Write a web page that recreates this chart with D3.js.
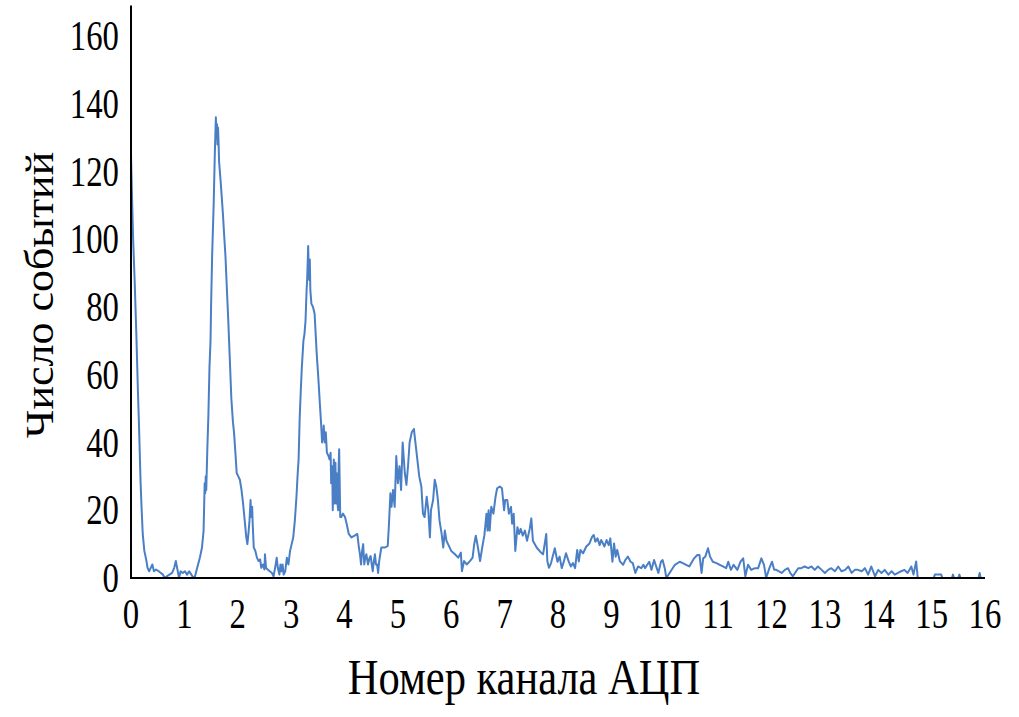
<!DOCTYPE html>
<html><head><meta charset="utf-8">
<script src="https://cdn.jsdelivr.net/npm/d3@7"></script>
<style>body{margin:0;background:#fff}svg{display:block}text{font-family:"Liberation Serif","Times New Roman",serif;fill:#000}</style>
</head><body><svg id="c" width="1019" height="717"></svg>
<script>
const channel = [0.00,0.02,0.04,0.07,0.10,0.13,0.15,0.18,0.20,0.22,0.25,0.29,0.31,0.34,0.37,0.40,0.43,0.47,0.52,0.56,0.60,0.63,0.67,0.72,0.77,0.81,0.84,0.87,0.90,0.93,0.97,1.01,1.05,1.09,1.13,1.17,1.20,1.24,1.29,1.33,1.36,1.38,1.39,1.40,1.41,1.43,1.45,1.47,1.49,1.50,1.52,1.55,1.57,1.59,1.60,1.61,1.62,1.63,1.64,1.65,1.68,1.72,1.75,1.77,1.80,1.82,1.85,1.88,1.91,1.93,1.96,1.98,2.01,2.04,2.07,2.10,2.13,2.16,2.18,2.20,2.22,2.24,2.25,2.27,2.28,2.30,2.33,2.36,2.39,2.42,2.44,2.47,2.50,2.51,2.53,2.56,2.60,2.64,2.67,2.70,2.73,2.75,2.78,2.80,2.82,2.84,2.86,2.89,2.92,2.95,2.98,3.01,3.04,3.07,3.10,3.12,3.14,3.16,3.18,3.20,3.23,3.25,3.27,3.29,3.30,3.31,3.32,3.33,3.34,3.35,3.36,3.38,3.41,3.44,3.46,3.48,3.51,3.54,3.56,3.58,3.60,3.61,3.63,3.65,3.67,3.70,3.72,3.74,3.75,3.77,3.78,3.80,3.81,3.83,3.84,3.85,3.86,3.88,3.89,3.90,3.92,3.94,3.97,4.01,4.04,4.08,4.13,4.19,4.24,4.27,4.29,4.31,4.33,4.35,4.37,4.39,4.41,4.44,4.47,4.49,4.51,4.53,4.55,4.57,4.59,4.61,4.63,4.65,4.69,4.76,4.81,4.83,4.86,4.88,4.91,4.94,4.97,5.00,5.03,5.06,5.09,5.13,5.16,5.19,5.22,5.26,5.30,5.35,5.40,5.44,5.47,5.50,5.54,5.57,5.60,5.62,5.66,5.69,5.72,5.75,5.78,5.82,5.85,5.88,5.91,5.94,6.00,6.07,6.13,6.18,6.20,6.24,6.29,6.35,6.40,6.43,6.46,6.50,6.54,6.58,6.62,6.66,6.68,6.70,6.72,6.75,6.79,6.83,6.86,6.91,6.95,6.99,7.01,7.05,7.08,7.12,7.14,7.17,7.20,7.24,7.27,7.30,7.34,7.38,7.42,7.47,7.50,7.53,7.60,7.67,7.72,7.78,7.80,7.83,7.87,7.94,7.99,8.03,8.07,8.11,8.15,8.20,8.24,8.28,8.32,8.36,8.39,8.42,8.47,8.53,8.59,8.64,8.67,8.70,8.74,8.78,8.81,8.87,8.91,8.95,8.98,9.02,9.05,9.08,9.11,9.16,9.22,9.26,9.31,9.36,9.40,9.45,9.50,9.56,9.60,9.63,9.71,9.75,9.80,9.84,9.88,9.93,9.96,10.00,10.03,10.19,10.28,10.34,10.40,10.46,10.55,10.61,10.65,10.69,10.72,10.76,10.81,10.85,10.90,10.97,11.03,11.09,11.15,11.19,11.24,11.29,11.36,11.42,11.47,11.51,11.56,11.62,11.69,11.75,11.81,11.86,11.90,11.96,12.01,12.05,12.09,12.19,12.25,12.31,12.35,12.40,12.50,12.56,12.62,12.69,12.75,12.81,12.87,12.94,13.00,13.06,13.12,13.19,13.25,13.31,13.38,13.44,13.50,13.56,13.62,13.69,13.75,13.81,13.87,13.94,14.00,14.06,14.12,14.19,14.25,14.31,14.37,14.43,14.49,14.55,14.62,14.66,14.71,14.74,15.04,15.06,15.18,15.20,15.38,15.40,15.42,15.50,15.52,15.54,15.88,15.90,15.92,16.00];
const counts = [125,112,100,87,72,55,45,28,20,13,8,5,3,2,3,4,2,2.5,2,1.5,1,0,0.5,1,1.5,3,5,2.5,0,2,1.5,2,1,2,1,0,0.5,3,6,9,14,28,25,30,26,38,48,62,70,80,95,111,125,136,130,134,128,133,129,123,117,108,100,95,84,77,65,53,46,43,36,31,30,29,26,22,17,12,10,13,17,23,18,21,16,9,8,6,5,5.5,3,4,2.5,7,3,2.5,2,1.5,0.5,3,6,3,1,4,2,4,1,2,6,4,8,10,12,17,24,30,35,47,55,62,70,72,76,85,88,93,98,90,88,94,85,81,80,78,72,66,59,51,46,40,42,45,40,43,37,36,35,37,28,33,20,35,22,34,22,31,24,20,33,38,18,18,19,18,16,13,12,12.5,13,9,7,4,8,10,4,6,7,4,6,6.5,4,2,5,7,4,4,1.5,5,9,9,9.5,15,25,21,26,21,36,28,33,26,40,31,27.5,33,40,43,44,37,30,27,19,18,24,20,12,20,23,29,27,23,17,13,9,14,11,10,8,7,6,7.5,2,5,4,5,6,10,12.5,9,5,9,12.5,19,14,20,14,21,19,24,26.5,27,26.5,20,23,23,19,21,16,19,8,15,13,14.5,12.5,14,11,14.5,17.6,11,9,7.7,7,13,5,3,4.4,8.8,4.8,6.3,2.9,4.9,7.3,4.9,3.4,4.4,2.9,8.3,4.9,8.3,7.3,9.3,10.2,12.2,12.7,10.7,11.7,9.7,11.2,9.3,11.2,9.7,11.7,4.8,10.2,6.3,8.3,4.9,3.9,5.3,6.3,4.8,4.4,1.5,3.4,2.9,3.9,2.9,4.8,2.4,5.3,3.4,1.5,4.9,5.3,2.9,0,3.9,4.8,4.4,3.9,3.4,5.8,6.8,6.8,1.5,5.8,6.3,8.8,6.3,4.8,4.4,3.9,3.4,2.9,4.8,2.4,3.9,2.4,4.8,5.8,0.5,3.9,2.4,2.9,2.9,5.8,3.9,0,2.9,4.8,2.4,2.4,1.5,2.4,2.9,1.5,0.5,2.9,2.9,3.4,2.9,3.4,2.4,3.4,2.4,1.5,2.4,2.9,2,3.4,2,2.4,3.4,1.5,2.4,2.4,2,2.9,1,3.4,0.5,2.4,1.5,2.4,1,2,1,1.5,2,2.4,1.5,3.4,1,4.9,0,0,1,1,0,0,1,0,0,1,0,0,1.5,0,0];
const xTicks = [0,1,2,3,4,5,6,7,8,9,10,11,12,13,14,15,16];
const yTicks = [0,20,40,60,80,100,120,140,160];
const xTitle = "Номер канала АЦП";
const yTitle = "Число событий";

const svg = d3.select("#c");
const x = d3.scaleLinear().domain([0,16]).range([131,985]);
const y = d3.scaleLinear().domain([0,160]).range([578,36]);
const sx = 0.78;

const data = channel.map((c,i)=>({c, v: counts[i]}));
svg.append("path").datum(data)
  .attr("fill","none").attr("stroke","#4a7fc6").attr("stroke-width",2)
  .attr("stroke-linejoin","round")
  .attr("d", d3.line().x(d=>x(d.c)).y(d=>y(d.v)));

// axes
svg.append("line").attr("x1",x(0)).attr("x2",x(0)).attr("y1",y(0)+1).attr("y2",y(169))
  .attr("stroke","#000").attr("stroke-width",2);
svg.append("line").attr("x1",x(0)-1).attr("x2",x(16)).attr("y1",y(0)).attr("y2",y(0))
  .attr("stroke","#000").attr("stroke-width",2);

svg.selectAll("text.xt").data(xTicks).enter().append("text").attr("class","xt")
  .attr("transform", d=>`translate(${x(d)},628) scale(${sx},1)`)
  .attr("text-anchor","middle").attr("font-size",42).text(d=>d);
svg.selectAll("text.yt").data(yTicks).enter().append("text").attr("class","yt")
  .attr("transform", d=>`translate(119,${y(d)+14}) scale(${sx},1)`)
  .attr("text-anchor","end").attr("font-size",42).text(d=>d);

svg.append("text").attr("transform",`translate(524,694) scale(0.85,1)`)
  .attr("text-anchor","middle").attr("font-size",50).text(xTitle);
svg.append("text").attr("transform",`translate(53,295) rotate(-90) scale(1,0.92)`)
  .attr("text-anchor","middle").attr("font-size",44).text(yTitle);
</script></body></html>
